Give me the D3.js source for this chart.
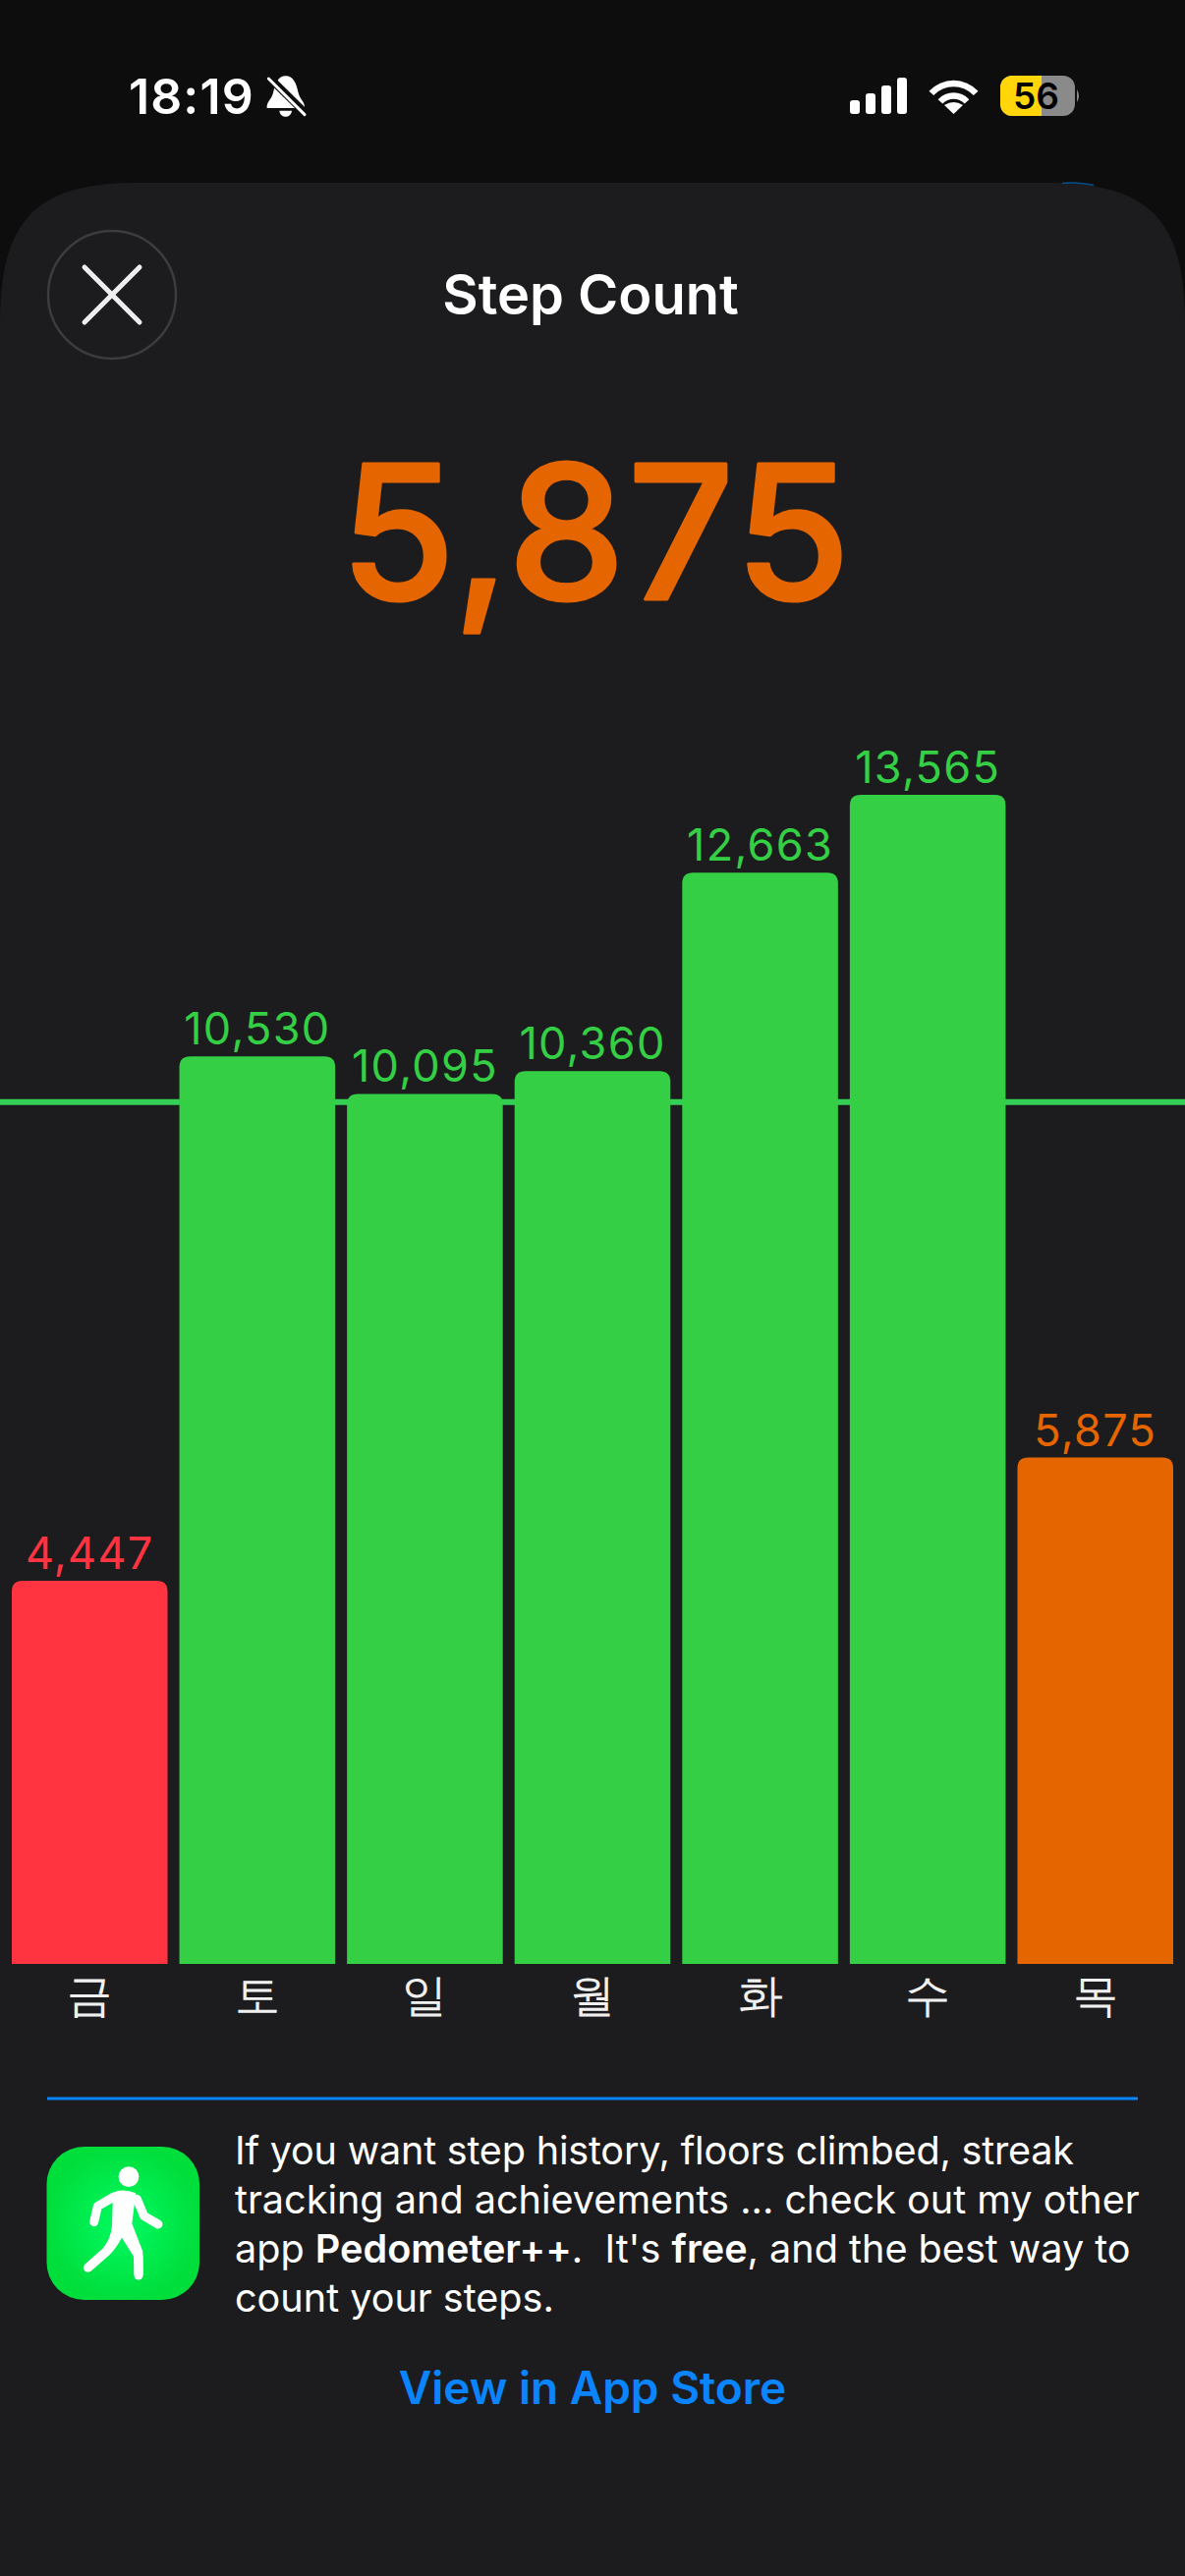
<!DOCTYPE html>
<html>
<head>
<meta charset="utf-8">
<script src="https://cdn.jsdelivr.net/npm/d3@7"></script>
<style>
  html, body { margin: 0; padding: 0; background: #0d0d0e; }
  svg { display: block; }
  text { font-family: Inter, "Noto Sans", sans-serif; }
</style>
</head>
<body>
<div id="chart"></div>
<script>
// step counts
var days = [ '금' , '토' , '일' , '월' , '화' , '수' , '목' ];
var steps = [ 4447 , 10530 , 10095 , 10360 , 12663 , 13565 , 5875 ];
var barColors = [ '#ff3440' , '#34cf45' , '#34cf45' , '#34cf45' , '#34cf45' , '#34cf45' , '#e56600' ];
var goal = 10000;
var today = 5875;

var textLines = [
    [ [ 'If you want step history, floors climbed, streak' , 400 ] ],
    [ [ 'tracking and achievements ... check out my other' , 400 ] ],
    [ [ 'app ' , 400 ] , [ 'Pedometer++' , 600 ] , [ '.\u00a0 It\'s ' , 400 ] , [ 'free' , 600 ] , [ ', and the best way to' , 400 ] ],
    [ [ 'count your steps.' , 400 ] ]
];

var W = 1206, H = 2622;
var fmt = d3.format( ',' );

var svg = d3.select( '#chart' ).append( 'svg' )
    .attr( 'width' , W )
    .attr( 'height' , H );

// scales
var x = d3.scaleBand().domain( days ).range( [ 12 , 1194 ] ).paddingInner( 0.0705 ).paddingOuter( 0 );
var y = d3.scaleLinear().domain( [ 0 , 13565 ] ).range( [ 1999 , 809 ] );

/* ---------- status bar ---------- */
svg.append( 'rect' ).attr( 'width' , W ).attr( 'height' , H ).attr( 'fill' , '#0d0d0e' );

svg.append( 'text' ).text( '18:19' )
    .attr( 'x' , 131 ).attr( 'y' , 116 )
    .attr( 'font-size' , 50 ).attr( 'font-weight' , 600 ).attr( 'fill' , '#fff' )
    .attr( 'letter-spacing' , 1.1 );

// muted bell
var bell = svg.append( 'g' ).attr( 'transform' , 'translate(120,60) scale(0.3333)' );
bell.append( 'path' ).attr( 'fill' , '#fff' )
    .attr( 'd' , 'M512,52 C535,52 545,75 550,100 C555,125 572,130 570,150 L455,150 C453,130 470,125 475,100 C480,75 490,52 512,52 Z' );
bell.append( 'path' ).attr( 'fill' , '#fff' ).attr( 'd' , 'M493,158 L531,158 C528,182 496,182 493,158 Z' );
bell.append( 'line' ).attr( 'x1' , 455 ).attr( 'y1' , 50 ).attr( 'x2' , 575 ).attr( 'y2' , 168 )
    .attr( 'stroke' , '#0d0d0e' ).attr( 'stroke-width' , 24 );
bell.append( 'line' ).attr( 'x1' , 460 ).attr( 'y1' , 60 ).attr( 'x2' , 570 ).attr( 'y2' , 170 )
    .attr( 'stroke' , '#fff' ).attr( 'stroke-width' , 9 ).attr( 'stroke-linecap' , 'round' );

// signal bars
svg.selectAll( 'rect.signal' )
    .data( [ 14 , 21 , 29 , 37 ] )
    .enter()
        .append( 'rect' )
        .attr( 'class' , 'signal' )
        .attr( 'x' , function( d , i ){ return 865 + i * 16 })
        .attr( 'y' , function( d ){ return 116 - d })
        .attr( 'width' , 10 )
        .attr( 'height' , function( d ){ return d })
        .attr( 'rx' , 3 )
        .attr( 'fill' , '#fff' );

// wifi
var wifi = svg.append( 'g' ).attr( 'transform' , 'translate(970.5,116)' );
[ 31 , 18.5 ].forEach( function( r ){
    wifi.append( 'path' )
        .attr( 'd' , d3.arc().innerRadius( r - 3.2 ).outerRadius( r + 3.2 ).startAngle( -0.82 ).endAngle( 0.82 )() )
        .attr( 'fill' , '#fff' );
});
wifi.append( 'path' ).attr( 'fill' , '#fff' ).attr( 'd' , 'M0,0 L-9.5,-9 Q0,-15 9.5,-9 Z' );

// battery
svg.append( 'rect' ).attr( 'x' , 1018 ).attr( 'y' , 77 ).attr( 'width' , 76 ).attr( 'height' , 41 ).attr( 'rx' , 12 ).attr( 'fill' , '#8a8a8a' );
svg.append( 'clipPath' ).attr( 'id' , 'battClip' ).append( 'rect' ).attr( 'x' , 1018 ).attr( 'y' , 77 ).attr( 'width' , 42 ).attr( 'height' , 41 );
svg.append( 'rect' ).attr( 'x' , 1018 ).attr( 'y' , 77 ).attr( 'width' , 76 ).attr( 'height' , 41 ).attr( 'rx' , 12 ).attr( 'fill' , '#ffd60a' ).attr( 'clip-path' , 'url(#battClip)' );
svg.append( 'path' ).attr( 'd' , 'M1096,91 Q1100,97.5 1096,104 Z' ).attr( 'fill' , '#8a8a8a' );
svg.append( 'text' ).text( '56' )
    .attr( 'x' , 1054.5 ).attr( 'y' , 111 ).attr( 'text-anchor' , 'middle' )
    .attr( 'font-size' , 37 ).attr( 'font-weight' , 600 ).attr( 'fill' , '#000' );

/* ---------- sheet ---------- */
svg.append( 'path' ).attr( 'fill' , '#1c1c1e' )
    .attr( 'd' , 'M0,330 C0,225 35,186 140,186 L1066,186 C1171,186 1206,225 1206,330 L1206,2622 L0,2622 Z' );
svg.append( 'path' ).attr( 'd' , 'M1081,186.5 Q1097,184.8 1113,188.5' ).attr( 'fill' , 'none' ).attr( 'stroke' , '#07508c' ).attr( 'stroke-width' , 1.5 );

// close button
svg.append( 'circle' ).attr( 'cx' , 114 ).attr( 'cy' , 300 ).attr( 'r' , 65 )
    .attr( 'fill' , 'none' ).attr( 'stroke' , '#3c3c3e' ).attr( 'stroke-width' , 2.5 );
[ [ 86 , 272 , 142 , 328 ] , [ 142 , 272 , 86 , 328 ] ].forEach( function( l ){
    svg.append( 'line' )
        .attr( 'x1' , l[ 0 ] ).attr( 'y1' , l[ 1 ] ).attr( 'x2' , l[ 2 ] ).attr( 'y2' , l[ 3 ] )
        .attr( 'stroke' , '#eeeeee' ).attr( 'stroke-width' , 5 ).attr( 'stroke-linecap' , 'round' );
});

svg.append( 'text' ).text( 'Step Count' )
    .attr( 'x' , 601 ).attr( 'y' , 320 ).attr( 'text-anchor' , 'middle' )
    .attr( 'font-size' , 56 ).attr( 'font-weight' , 600 ).attr( 'fill' , '#fff' );

svg.append( 'text' ).text( fmt( today ) )
    .attr( 'x' , 607 ).attr( 'y' , 610 ).attr( 'text-anchor' , 'middle' )
    .attr( 'font-size' , 190 ).attr( 'font-weight' , 500 ).attr( 'fill' , '#e56600' )
    .attr( 'letter-spacing' , 2.5 )
    .attr( 'stroke' , '#e56600' ).attr( 'stroke-width' , 3 ).attr( 'stroke-linejoin' , 'round' );

/* ---------- chart ---------- */
svg.append( 'line' )
    .attr( 'x1' , 0 ).attr( 'x2' , W )
    .attr( 'y1' , y( goal ) ).attr( 'y2' , y( goal ) )
    .attr( 'stroke' , '#34cf55' ).attr( 'stroke-width' , 6 );

// bars have rounded tops and a square foot
function barPath( d , i ){
    var x0 = x( days[ i ] ), x1 = x0 + x.bandwidth(), top = y( d ), r = 11;
    return 'M' + x0 + ',' + y( 0 ) +
        'L' + x0 + ',' + ( top + r ) +
        'Q' + x0 + ',' + top + ' ' + ( x0 + r ) + ',' + top +
        'L' + ( x1 - r ) + ',' + top +
        'Q' + x1 + ',' + top + ' ' + x1 + ',' + ( top + r ) +
        'L' + x1 + ',' + y( 0 ) + 'Z';
}

svg.selectAll( 'path.bar' )
    .data( steps )
    .enter()
        .append( 'path' )
        .attr( 'class' , 'bar' )
        .attr( 'd' , barPath )
        .attr( 'fill' , function( d , i ){ return barColors[ i ] });

svg.selectAll( 'text.value' )
    .data( steps )
    .enter()
        .append( 'text' )
        .attr( 'class' , 'value' )
        .attr( 'x' , function( d , i ){ return x( days[ i ] ) + x.bandwidth() / 2 })
        .attr( 'y' , function( d ){ return y( d ) - 12 })
        .attr( 'text-anchor' , 'middle' )
        .attr( 'font-size' , 45 )
        .attr( 'letter-spacing' , 1.3 )
        .attr( 'fill' , function( d , i ){ return barColors[ i ] })
        .text( function( d ){ return fmt( d ) });

var xAxis = svg.append( 'g' )
    .attr( 'transform' , 'translate(0,' + y( 0 ) + ')' )
    .call( d3.axisBottom( x ).tickSize( 0 ).tickPadding( 15 ) );
xAxis.select( '.domain' ).remove();
xAxis.selectAll( 'text' )
    .attr( 'font-size' , 46 )
    .attr( 'font-family' , '"Noto Sans CJK KR"' )
    .attr( 'fill' , '#f0f0f0' );

/* ---------- promo ---------- */
svg.append( 'line' )
    .attr( 'x1' , 48 ).attr( 'x2' , 1158 ).attr( 'y1' , 2136 ).attr( 'y2' , 2136 )
    .attr( 'stroke' , '#0a84ff' ).attr( 'stroke-width' , 3 );

var grad = svg.append( 'defs' ).append( 'radialGradient' ).attr( 'id' , 'iconGreen' );
grad.append( 'stop' ).attr( 'offset' , '0%' ).attr( 'stop-color' , '#00fb62' );
grad.append( 'stop' ).attr( 'offset' , '100%' ).attr( 'stop-color' , '#00de3c' );

svg.append( 'rect' )
    .attr( 'x' , 47.5 ).attr( 'y' , 2185 ).attr( 'width' , 155.5 ).attr( 'height' , 156 ).attr( 'rx' , 38 )
    .attr( 'fill' , 'url(#iconGreen)' );

// walking figure, traced in zoomed crop units
var walker = svg.append( 'g' ).attr( 'transform' , 'translate(40,2175) scale(0.3333)' );
walker.append( 'circle' ).attr( 'cx' , 273 ).attr( 'cy' , 122 ).attr( 'r' , 31 ).attr( 'fill' , '#fff' );
walker.append( 'path' ).attr( 'fill' , '#fff' )
    .attr( 'd' , 'M225,170 Q255,156 295,172 L288,225 L283,265 L316,350 L317,423 L290,423 L288,365 L252,308 Q235,340 215,360 L157,410 L137,392 L190,345 Q218,315 222,270 Z' );
[ 'M167,260 L178,212 L228,183' , 'M363,267 L320,242 L298,190' , 'M303,365 L303,423' , 'M148,400 L195,358' ].forEach( function( d ){
    walker.append( 'path' ).attr( 'd' , d ).attr( 'fill' , 'none' )
        .attr( 'stroke' , '#fff' ).attr( 'stroke-width' , 27 )
        .attr( 'stroke-linecap' , 'round' ).attr( 'stroke-linejoin' , 'round' );
});

var para = svg.append( 'g' );
textLines.forEach( function( line , i ){
    var t = para.append( 'text' )
        .attr( 'x' , 239 ).attr( 'y' , 2202.5 + i * 50.3 )
        .attr( 'font-size' , 39.6 ).attr( 'fill' , '#fff' )
        .attr( 'letter-spacing' , i === 0 ? -0.2 : 0 );
    line.forEach( function( seg ){
        t.append( 'tspan' ).attr( 'font-weight' , seg[ 1 ] ).text( seg[ 0 ] );
    });
});

svg.append( 'text' ).text( 'View in App Store' )
    .attr( 'x' , 603 ).attr( 'y' , 2447 ).attr( 'text-anchor' , 'middle' )
    .attr( 'font-size' , 46 ).attr( 'font-weight' , 600 ).attr( 'fill' , '#0a84ff' );
</script>
</body>
</html>
